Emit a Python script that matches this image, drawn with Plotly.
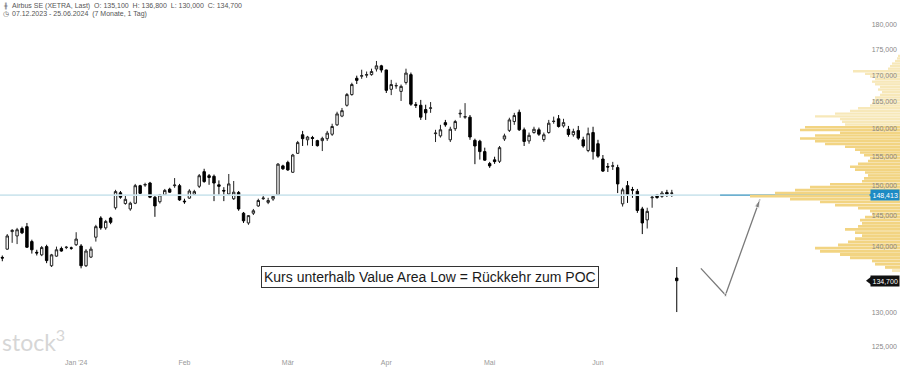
import numpy as np
import pandas as pd
import plotly.graph_objects as go

# ---------------- data ----------------
holidays = ["2023-12-25", "2023-12-26", "2024-01-01", "2024-03-29", "2024-04-01", "2024-05-01"]
dates = [d for d in pd.bdate_range("2023-12-07", "2024-06-25") if d.strftime("%Y-%m-%d") not in holidays]
date_labels = [d.strftime("%d.%m.%Y") for d in dates]

opens = [138.3, 139.6, 142.4, 141.7, 142.9, 143.2, 140.8, 139.1, 138.7, 140.0,
         137.0, 138.5, 139.7, 139.85, 139.8, 140.3, 140.1, 137.0, 138.35, 141.5,
         144.6, 143.0, 144.6, 146.3, 148.8, 147.0, 146.1, 147.05, 150.0, 150.1,
         150.45, 148.05, 147.3, 148.45, 149.4, 150.0, 150.0, 147.4, 147.9, 148.55,
         149.9, 152.4, 151.7, 151.6, 150.15, 149.2, 148.6, 147.8, 148.85, 145.4,
         143.8, 145.4, 146.6, 147.8, 147.2, 147.75, 148.45, 153.4, 154.0, 152.3,
         155.6, 158.9, 158.0, 158.4, 157.85, 157.85, 158.2, 159.0, 160.7, 162.3,
         164.3, 166.3, 169.4, 169.8, 170.0, 170.1, 171.2, 171.8, 171.0, 167.3,
         167.95, 166.9, 168.6, 170.1, 164.4, 164.3, 163.5, 163.75, 159.1, 158.7,
         161.1, 158.0, 160.0, 162.7, 162.1, 162.1, 157.9, 157.75, 155.9, 153.8,
         154.45, 154.2, 158.15, 159.7, 161.3, 163.0, 159.8, 157.8, 159.3, 159.8,
         158.05, 159.3, 161.3, 161.8, 160.5, 159.9, 158.9, 159.65, 158.0, 156.1,
         159.3, 157.3, 154.6, 153.3, 153.35, 153.1, 146.95, 150.0, 149.35, 149.05,
         146.1, 144.3, 147.95, 148.45, 148.2, 148.85, 148.7, 135.1]
highs = [138.6, 142.0, 142.8, 143.0, 143.2, 143.8, 141.1, 139.5, 140.1, 140.3,
         138.85, 140.0, 140.0, 140.1, 140.0, 142.3, 140.4, 139.6, 140.0, 143.5,
         144.9, 144.3, 144.8, 149.3, 149.1, 148.45, 147.3, 150.3, 150.15, 150.5,
         150.65, 148.3, 148.6, 149.45, 149.65, 151.3, 150.3, 147.8, 149.4, 149.3,
         152.0, 152.9, 152.0, 151.9, 150.9, 149.75, 152.0, 150.8, 149.1, 145.6,
         145.1, 146.1, 147.8, 148.5, 147.95, 148.45, 153.9, 153.6, 154.3, 155.5,
         157.8, 159.6, 158.7, 158.7, 158.0, 158.55, 159.6, 160.9, 163.1, 163.8,
         166.6, 168.55, 169.9, 171.05, 170.7, 171.25, 172.75, 172.0, 171.05, 169.1,
         168.55, 168.2, 171.25, 170.5, 164.9, 165.3, 164.4, 164.9, 159.8, 160.7,
         161.6, 160.35, 161.6, 163.5, 164.7, 162.5, 158.2, 158.0, 156.6, 154.1,
         155.0, 156.9, 159.1, 162.0, 162.9, 163.5, 160.2, 159.3, 160.35, 160.2,
         159.3, 161.6, 162.2, 162.5, 161.8, 160.5, 160.0, 160.5, 158.55, 160.2,
         160.35, 158.0, 155.3, 153.9, 154.1, 153.6, 149.65, 150.8, 149.8, 149.45,
         146.45, 146.3, 148.3, 148.6, 149.1, 149.3, 149.3, 136.8]
lows = [137.7, 139.5, 140.6, 140.4, 142.0, 139.8, 138.9, 138.6, 138.5, 137.4,
        136.8, 138.4, 139.2, 139.6, 139.5, 140.1, 136.6, 136.8, 138.2, 140.8,
        142.7, 142.7, 143.6, 146.0, 147.8, 146.8, 145.8, 146.9, 148.6, 149.8,
        147.9, 144.8, 147.0, 148.3, 148.8, 149.65, 147.45, 146.95, 147.8, 148.4,
        149.6, 150.5, 150.15, 147.4, 148.45, 147.4, 148.4, 147.6, 145.8, 143.8,
        143.5, 145.1, 146.45, 147.6, 146.9, 147.45, 148.3, 152.7, 152.55, 152.2,
        155.5, 156.9, 157.0, 156.9, 156.8, 156.0, 157.8, 158.7, 160.5, 162.1,
        164.05, 166.1, 168.3, 169.3, 169.5, 169.9, 170.7, 170.5, 166.6, 166.2,
        167.4, 165.1, 168.2, 164.2, 163.8, 161.6, 161.6, 162.9, 157.6, 158.4,
        160.35, 157.6, 159.6, 162.0, 161.8, 158.0, 153.7, 154.5, 154.3, 153.05,
        153.75, 153.9, 157.8, 159.4, 160.7, 159.6, 156.9, 157.3, 159.1, 158.7,
        157.65, 159.1, 160.9, 160.2, 160.2, 158.55, 158.55, 158.0, 156.6, 155.8,
        154.5, 154.8, 152.35, 152.35, 152.7, 148.75, 146.5, 147.1, 147.95, 145.45,
        142.0, 142.9, 146.3, 147.8, 147.95, 148.1, 148.1, 130.0]
closes = [138.2, 141.7, 142.6, 142.7, 142.2, 139.9, 139.5, 139.0, 139.85, 137.8,
          138.7, 139.5, 139.3, 139.9, 139.75, 141.2, 137.0, 139.3, 139.6, 143.2,
          143.0, 144.05, 143.9, 149.0, 148.05, 147.7, 147.05, 150.0, 148.7, 150.2,
          148.05, 146.6, 148.45, 149.2, 148.9, 150.1, 147.6, 147.3, 149.1, 149.0,
          151.7, 150.7, 151.4, 150.45, 149.9, 149.1, 150.3, 148.9, 146.1, 144.15,
          145.0, 145.8, 147.5, 147.9, 147.5, 148.2, 153.7, 152.9, 152.7, 155.3,
          157.5, 158.2, 158.5, 158.25, 156.95, 158.25, 159.2, 160.4, 162.7, 163.3,
          166.3, 168.2, 169.0, 169.9, 170.1, 170.7, 171.8, 171.0, 167.1, 168.2,
          168.0, 167.85, 170.4, 164.5, 164.3, 162.1, 162.9, 163.8, 159.2, 159.8,
          160.7, 159.9, 161.3, 162.8, 162.2, 158.5, 156.9, 155.9, 154.4, 153.4,
          154.15, 156.6, 158.7, 161.6, 162.4, 159.8, 157.7, 158.8, 159.9, 159.0,
          158.9, 161.0, 161.35, 160.4, 161.1, 158.95, 159.5, 158.3, 156.9, 159.1,
          155.9, 155.1, 152.5, 153.2, 153.4, 150.3, 149.3, 148.45, 149.25, 145.85,
          143.8, 145.7, 148.05, 148.0, 148.75, 148.6, 148.75, 134.7]

month_tick_dates = ["02.01.2024", "01.02.2024", "01.03.2024", "02.04.2024", "02.05.2024", "03.06.2024"]
month_tick_labels = ["Jan '24", "Feb", "Mär", "Apr", "Mai", "Jun"]

# 135,000 is covered by the last-price tag in the reference, so it is not listed
price_ticks = [125, 130, 140, 145, 150, 155, 160, 165, 170, 175, 180, 185]
price_tick_labels = [f"{v},000" for v in price_ticks]

# volume profile (bin centres, 0.5 step) and relative volume
vp_step = 0.5
vp_centers = list(np.arange(136.25, 174.0, vp_step))
vp_volume = [8, 15, 25, 28, 50, 60, 80, 85, 62, 52,
             45, 38, 45, 55, 42, 38, 40, 35, 28, 30,
             42, 65, 80, 110, 150, 125, 105, 90, 70, 38,
             36, 32, 35, 45, 50, 42, 32, 30, 36, 40,
             45, 55, 75, 85, 100, 85, 60, 100, 95, 55,
             58, 60, 85, 65, 50, 42, 30, 28, 27, 25,
             20, 18, 22, 20, 25, 28, 25, 30, 35, 47,
             12, 10, 8, 5, 3, 2]
value_area = (136.5, 160.5)
poc_price = 148.413
last_price = 134.7

# drawing (annotation) anchors: index / price
arrow_x = [141.9, 146.9, 153.9]
arrow_y = [136.6, 132.55, 147.7]
note_x, note_y = 86.8, 135.2
note_text = "Kurs unterhalb Value Area Low = Rückkehr zum POC"

# ---------------- figure ----------------
idx = list(range(len(opens)))
tick_idx = [date_labels.index(d) for d in month_tick_dates]
x_range = [-0.47, 182.35]
y_lo, y_hi = 123.55, 185.1
y_range = [np.log10(y_lo), np.log10(y_hi)]

fig = go.Figure()

vp_c = np.array(vp_centers)
vp_colors = ["#f2d482" if value_area[0] <= c <= value_area[1] else "#f7e8b9" for c in vp_c]
fig.add_trace(go.Bar(
    x=vp_volume, y=np.log10(vp_c), orientation="h",
    width=np.log10((vp_c + vp_step / 2) / (vp_c - vp_step / 2)) * 0.9,
    marker=dict(color=vp_colors, line=dict(width=0)),
    xaxis="x2", yaxis="y2", hoverinfo="skip", showlegend=False))

fig.add_trace(go.Scatter(x=x_range, y=[poc_price, poc_price], mode="lines",
                         line=dict(color="#cfe6ee", width=1.6), hoverinfo="skip", showlegend=False))
fig.add_trace(go.Scatter(x=[145.8, x_range[1]], y=[poc_price, poc_price], mode="lines",
                         line=dict(color="#4d9ec6", width=1.1), hoverinfo="skip", showlegend=False))

fig.add_trace(go.Candlestick(
    x=idx, open=opens, high=highs, low=lows, close=closes,
    hovertext=date_labels,
    increasing=dict(line=dict(color="#222222", width=1), fillcolor="#ffffff"),
    decreasing=dict(line=dict(color="#000000", width=1), fillcolor="#000000"),
    whiskerwidth=0, showlegend=False))

fig.add_trace(go.Scatter(
    x=arrow_x, y=arrow_y, mode="lines+markers",
    line=dict(color="#7a7a7a", width=1.3),
    marker=dict(symbol=["circle", "circle", "arrow"], size=[3, 3, 9],
                color="#7a7a7a", angleref="previous"),
    hoverinfo="skip", showlegend=False))

fig.add_trace(go.Scatter(
    x=[27, 30], y=[np.log10(poc_price), np.log10(last_price)], mode="markers",
    marker=dict(symbol="triangle-left", size=8, color=["#1d8bc4", "#111111"]),
    xaxis="x2", yaxis="y2", hoverinfo="skip", showlegend=False))

font_fam = "Liberation Sans, Arial, sans-serif"
ann = []
ann.append(dict(x=note_x, y=np.log10(note_y), xref="x", yref="y", text=note_text,
                showarrow=False, font=dict(family=font_fam, size=14, color="#1a1a1a"),
                bgcolor="#ffffff", bordercolor="#333333", borderwidth=1, borderpad=2))
ann.append(dict(x=1, xref="paper", y=np.log10(poc_price), yref="y", text="148,413",
                xanchor="right", showarrow=False, font=dict(family=font_fam, size=7, color="#ffffff"),
                bgcolor="#1d8bc4", borderpad=1.5))
ann.append(dict(x=1, xref="paper", y=np.log10(last_price), yref="y", text="134,700",
                xanchor="right", showarrow=False, font=dict(family=font_fam, size=7, color="#ffffff"),
                bgcolor="#111111", borderpad=1.5))
ann.append(dict(x=0.011, xref="paper", y=1 - 6 / 357, yref="paper", xanchor="left", yanchor="middle",
                text="Airbus SE (XETRA, Last)  O: 135,100  H: 136,800  L: 130,000  C: 134,700",
                showarrow=False, font=dict(family=font_fam, size=7, color="#555555")))
ann.append(dict(x=0.011, xref="paper", y=1 - 14 / 357, yref="paper", xanchor="left", yanchor="middle",
                text="07.12.2023 - 25.06.2024  (7 Monate, 1 Tag)",
                showarrow=False, font=dict(family=font_fam, size=7, color="#555555")))
ann.append(dict(x=0.001, xref="paper", y=1 - 6 / 357, yref="paper", xanchor="left", yanchor="middle",
                text="╫", showarrow=False, font=dict(family="DejaVu Sans", size=6, color="#555555")))
ann.append(dict(x=0.001, xref="paper", y=1 - 14 / 357, yref="paper", xanchor="left", yanchor="middle",
                text="◷", showarrow=False, font=dict(family="DejaVu Sans", size=7, color="#555555")))
ann.append(dict(x=0.0, xref="paper", y=1 - 340 / 357, yref="paper", xanchor="left", yanchor="middle",
                text="stock<sup>3</sup>", showarrow=False,
                font=dict(family="Lato, Open Sans, sans-serif", size=23, color="#d6d6d6")))

fig.update_layout(
    width=900, height=369, margin=dict(l=0, r=0, t=0, b=12),
    paper_bgcolor="#ffffff", plot_bgcolor="#ffffff",
    showlegend=False, boxgap=0.3,
    xaxis=dict(range=x_range, tickvals=tick_idx, ticktext=month_tick_labels,
               showgrid=False, zeroline=False, showline=False, ticks="",
               tickfont=dict(family=font_fam, size=7, color="#999999"),
               rangeslider=dict(visible=False)),
    yaxis=dict(type="log", range=y_range, side="right", ticklabelposition="inside",
               tickvals=price_ticks, ticktext=price_tick_labels,
               showgrid=False, zeroline=False, showline=False, ticks="",
               tickfont=dict(family=font_fam, size=7, color="#888888")),
    xaxis2=dict(overlaying="x", range=[900, 0], visible=False, anchor="y2"),
    yaxis2=dict(overlaying="y", range=y_range, visible=False, anchor="x2"),
    annotations=ann,
)

fig.write_html("out.html", config={"displayModeBar": False},
               post_script="document.body.style.margin='0';document.body.style.overflow='hidden';")
